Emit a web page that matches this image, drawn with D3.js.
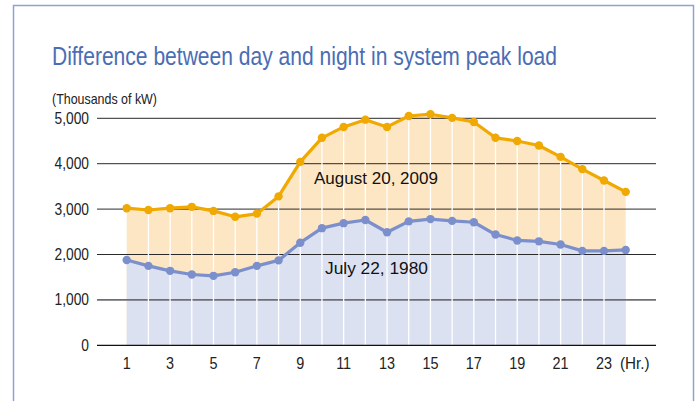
<!DOCTYPE html>
<html>
<head>
<meta charset="utf-8">
<script src="https://cdn.jsdelivr.net/npm/d3@7"></script>
<style>
  body { margin: 0; background: #fff; }
  text { font-family: "Liberation Sans Narrow", "Arial Narrow", "Liberation Sans", Arial, sans-serif; }
</style>
</head>
<body>
<div id="chart"></div>
<script>
const hours = d3.range(1, 25);
const tickHours = [1, 3, 5, 7, 9, 11, 13, 15, 17, 19, 21, 23];
const yTicks = [0, 1000, 2000, 3000, 4000, 5000];

// August 20, 2009
const load2009 = [3020, 2980, 3020, 3050, 2960, 2830, 2900, 3280, 4040, 4570,
  4810, 4970, 4810, 5050, 5090, 5010, 4920, 4570, 4500, 4400,
  4150, 3880, 3630, 3380];
// July 22, 1980
const load1980 = [1880, 1750, 1640, 1560, 1530, 1610, 1750, 1870, 2260, 2580,
  2690, 2760, 2490, 2730, 2780, 2740, 2710, 2440, 2310, 2290,
  2220, 2080, 2080, 2100];

const w = 697, h = 401;

// squeeze text a bit, the original uses a condensed face
function narrow(sel, k) {
  sel.each(function() {
    const len = this.getComputedTextLength();
    d3.select(this)
      .attr("textLength", len * k)
      .attr("lengthAdjust", "spacingAndGlyphs");
  });
}

const svg = d3.select("#chart").append("svg")
  .attr("width", w)
  .attr("height", h);

// frame
svg.append("rect")
  .attr("x", 13.5).attr("y", 5.5)
  .attr("width", 680).attr("height", 420)
  .attr("fill", "none")
  .attr("stroke", "#8ea2d3")
  .attr("stroke-width", 1.5);

svg.append("text")
  .attr("x", 52).attr("y", 65)
  .attr("fill", "#4a6db4")
  .style("font-size", "25px")
  .attr("textLength", 505)
  .attr("lengthAdjust", "spacingAndGlyphs")
  .text("Difference between day and night in system peak load");

svg.append("text")
  .attr("x", 52).attr("y", 104)
  .attr("fill", "#222")
  .style("font-size", "15px")
  .attr("textLength", 105)
  .attr("lengthAdjust", "spacingAndGlyphs")
  .text("(Thousands of kW)");

const x = d3.scaleLinear().domain([1, 24]).range([126.7, 625.7]);
const y = d3.scaleLinear().domain([0, 5000]).range([345.3, 118.3]);

// fills
const area = d3.area()
  .x((d, i) => x(hours[i]))
  .y0(y(0))
  .y1(d => y(d));

svg.append("path")
  .datum(load2009)
  .attr("d", area)
  .attr("fill", "#fde6c3");

svg.append("path")
  .datum(load1980)
  .attr("d", area)
  .attr("fill", "#dce1f1");

// gridlines
svg.append("g")
  .selectAll("line")
  .data(yTicks.filter(d => d > 0))
  .enter()
  .append("line")
  .attr("x1", 97).attr("x2", 656)
  .attr("y1", d => y(d)).attr("y2", d => y(d))
  .attr("stroke", d => d === 1000 ? "#6e6f75" : "#2a2a2a")
  .attr("stroke-width", d => d === 1000 ? 1.8 : 1);

// white hour dividers
svg.append("g")
  .selectAll("line")
  .data(hours.slice(1, 23))
  .enter()
  .append("line")
  .attr("x1", d => x(d)).attr("x2", d => x(d))
  .attr("y1", (d, i) => y(load2009[i + 1]))
  .attr("y2", y(0))
  .attr("stroke", "#fff")
  .attr("stroke-width", 1.3);

// baseline axis
svg.append("line")
  .attr("x1", 97).attr("x2", 656)
  .attr("y1", y(0)).attr("y2", y(0))
  .attr("stroke", "#111")
  .attr("stroke-width", 1.2);

// y tick labels
svg.append("g")
  .selectAll("text")
  .data(yTicks)
  .enter()
  .append("text")
  .attr("x", 89)
  .attr("y", d => y(d) + 5.5)
  .attr("text-anchor", "end")
  .attr("fill", "#222")
  .style("font-size", "16px")
  .text(d => d3.format(",")(d))
  .call(narrow, 0.86);

// x tick labels
svg.append("g")
  .selectAll("text")
  .data(tickHours)
  .enter()
  .append("text")
  .attr("x", d => x(d))
  .attr("y", 369)
  .attr("text-anchor", "middle")
  .attr("fill", "#222")
  .style("font-size", "16px")
  .text(d => d)
  .call(narrow, 0.9);

svg.append("text")
  .attr("x", 620)
  .attr("y", 369)
  .attr("fill", "#222")
  .style("font-size", "16px")
  .text("(Hr.)")
  .call(narrow, 0.95);

// lines + dots
const line = d3.line()
  .x((d, i) => x(hours[i]))
  .y(d => y(d));

const series = [
  { values: load1980, color: "#7b8fcc" },
  { values: load2009, color: "#f0a900" }
];

series.forEach(s => {
  svg.append("path")
    .datum(s.values)
    .attr("d", line)
    .attr("fill", "none")
    .attr("stroke", s.color)
    .attr("stroke-width", 3.2)
    .attr("stroke-linejoin", "round");

  svg.append("g")
    .selectAll("circle")
    .data(s.values)
    .enter()
    .append("circle")
    .attr("cx", (d, i) => x(hours[i]))
    .attr("cy", d => y(d))
    .attr("r", 4.2)
    .attr("fill", s.color);
});

// series labels
svg.append("text")
  .attr("x", 314).attr("y", 184)
  .attr("fill", "#111")
  .style("font-size", "17px")
  .attr("textLength", 124)
  .attr("lengthAdjust", "spacingAndGlyphs")
  .text("August 20, 2009");

svg.append("text")
  .attr("x", 325).attr("y", 274)
  .attr("fill", "#111")
  .style("font-size", "17px")
  .attr("textLength", 103)
  .attr("lengthAdjust", "spacingAndGlyphs")
  .text("July 22, 1980");
</script>
</body>
</html>
